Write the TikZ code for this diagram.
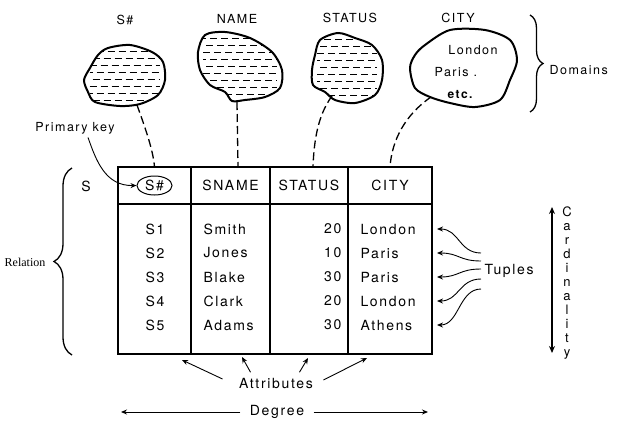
\documentclass[tikz,border=0pt]{standalone}
\usepackage{fontspec}
\setmainfont{TeX Gyre Heros}[LetterSpace=12]
\newfontfamily\relfont{Liberation Serif}
\usepackage{tikz}
\usetikzlibrary{decorations.pathreplacing,arrows.meta,shapes.geometric}

\tikzset{
  blob/.style={line width=2pt},
  hatched/.style={blob, path picture={
      \foreach \k [evaluate=\k as \ph using {mod(\k,3)*4}] in {1,...,13}
        \draw[line width=1.3pt, dash pattern=on 7pt off 4pt, dash phase=\ph pt]
          ([xshift=6pt,yshift=-\k*7pt]path picture bounding box.north west) --
          ([xshift=-6pt,yshift=-\k*7pt]path picture bounding box.north east);}},
  link/.style={line width=1.3pt, dash pattern=on 8pt off 4pt},
  grid/.style={line width=1.6pt},
  arr/.style={-{Stealth[length=6pt,width=5pt]}, line width=0.9pt},
  cell/.style={minimum height=37pt, inner sep=0pt},
  brc/.style={line width=1.3pt, decorate},
  txt/.style={font=\fontsize{14}{16}\selectfont},
  lbl/.style={font=\fontsize{12.5}{14}\selectfont}
}

\begin{document}
\begin{tikzpicture}[x=1pt, y=-1pt]
	\useasboundingbox (0,0) rectangle (624,445);

	% domains
	\node[lbl] (dsn) at (125,20) {S\#};
	\node[lbl] (dname) at (237,19) {NAME};
	\node[lbl] (dstatus) at (350,18) {STATUS};
	\node[lbl] (dcity) at (458,18) {CITY};

	\draw[hatched] plot[smooth cycle] coordinates {(108,48) (130,45) (152,52) (163,62) (165,80) (158,95) (140,104) (120,106) (95,102) (88,92) (84,80) (90,68) (98,55)};
	\draw[hatched] plot[smooth cycle] coordinates {(205,35) (225,32) (250,38) (272,52) (282,70) (280,88) (265,97) (245,100) (232,101) (225,92) (210,85) (200,70) (198,52)};
	\draw[hatched] plot[smooth cycle] coordinates {(320,40) (338,33) (355,38) (372,45) (382,60) (382,80) (375,95) (355,103) (335,100) (325,92) (313,85) (312,70) (315,55)};
	\draw[blob] plot[smooth cycle] coordinates {(425,45) (450,30) (485,30) (510,40) (517,60) (510,80) (500,100) (475,107) (450,103) (430,97) (415,88) (410,68) (415,55)};
	\node[lbl] (lon) at (473,50) {London};
	\node[lbl, anchor=west] (par) at (431,72) {Paris .};
	\node[lbl, font=\bfseries\fontsize{12}{14}\selectfont] (etc) at (460,95) {etc.};

	\coordinate (bsn) at (137,105);
	\coordinate (bname) at (237,102);
	\coordinate (bstatus) at (332,96);
	\coordinate (bcity) at (431,97);

	\draw[brc, decoration={brace, amplitude=13pt}] (530,15) -- (530,112);
	\node[lbl, anchor=west] (dom) at (546,70) {Domains};

	% relation table
	\node[cell, minimum width=73pt] (hc1) at (154.5,185.5) {};
	\node[cell, minimum width=79pt, txt] (hc2) at (230.5,185.5) {SNAME};
	\node[cell, minimum width=78pt, txt] (hc3) at (309,185.5) {STATUS};
	\node[cell, minimum width=84pt, txt] (hc4) at (390,185.5) {CITY};
	\node[draw, ellipse, line width=1pt, inner sep=0pt, minimum width=35pt, minimum height=19pt, txt] (key) at (hc1) {S\#};

	\draw[grid] (118,167) rectangle (432,354);
	\draw[grid] (118,204) -- (432,204);
	\draw[grid] (191,167) -- (191,354);
	\draw[grid] (270,167) -- (270,354);
	\draw[grid] (348,167) -- (348,354);

	\foreach \sid/\sname/\sst/\scity [count=\i] in {S1/Smith/20/London, S2/Jones/10/Paris, S3/Blake/30/Paris, S4/Clark/20/London, S5/Adams/30/Athens}{
		\pgfmathsetmacro\ry{205+24*\i}
		\node[txt] (sid\i) at (155,\ry) {\sid};
		\node[txt, anchor=west] (snm\i) at (200,\ry) {\sname};
		\node[txt, anchor=east] (sst\i) at (345,\ry) {\sst};
		\node[txt, anchor=west] (sct\i) at (357,\ry) {\scity};
		\coordinate (row\i) at (437,\ry);
	}

	\node[txt] (srel) at (86,186) {S};

	% domain links
	\draw[link] (bsn) .. controls (146,130) and (153,150) .. (hc1.north);
	\draw[link] (bname) -- ([xshift=7.5pt]hc2.north);
	\draw[link] (bstatus) .. controls (318,115) and (314,140) .. ([xshift=4pt]hc3.north);
	\draw[link] (bcity) .. controls (405,115) and (392,140) .. (hc4.north);

	% primary key
	\node[lbl] (pk) at (75,128) {Primary key};
	\draw[arr] ([xshift=13pt]pk.south) .. controls (96,160) and (105,186) .. (key.west);

	% relation brace
	\draw[brc, decoration={brace, amplitude=18pt}] (72,355) -- (72,168);
	\node[font=\relfont\fontsize{12}{14}\selectfont] (rel) at (25,262) {Relation};

	% tuples
	\node[txt, anchor=west] (tup) at (481,271) {Tuples};
	\foreach \i/\dy in {1/18,2/10,3/2,4/-8,5/-18}
		\draw[arr] ([yshift=\dy pt]tup.west) .. controls +(-22,0) and +(22,0) .. (row\i);

	% cardinality
	\coordinate (ctop) at (552,207);
	\coordinate (cbot) at (552,353);
	\draw[{Stealth[length=7pt,width=6pt]}-{Stealth[length=7pt,width=6pt]}, line width=1.2pt] (ctop) -- (cbot);
	\node[align=center, font=\fontsize{13}{14}\selectfont] (card) at (567,283) {C\\a\\r\\d\\i\\n\\a\\l\\i\\t\\y};

	% attributes
	\node[txt] (attr) at (276,383) {Attributes};
	\coordinate (at1) at (182,360);
	\coordinate (at2) at (242,357);
	\coordinate (at3) at (308,358);
	\coordinate (at4) at (367,358);
	\draw[arr] ([xshift=-13pt,yshift=4pt]attr.west) -- (at1);
	\draw[arr] ([xshift=15pt,yshift=2pt]attr.north west) -- (at2);
	\draw[arr] ([xshift=-17pt,yshift=2pt]attr.north east) -- (at3);
	\draw[arr] ([xshift=7pt,yshift=3pt]attr.east) -- (at4);

	% degree
	\node[txt] (deg) at (277,412) {Degree};
	\coordinate (degl) at (121,412);
	\coordinate (degr) at (428,412);
	\draw[arr] ([xshift=-6pt]deg.west) -- (degl);
	\draw[arr] ([xshift=6pt]deg.east) -- (degr);
\end{tikzpicture}
\end{document}
